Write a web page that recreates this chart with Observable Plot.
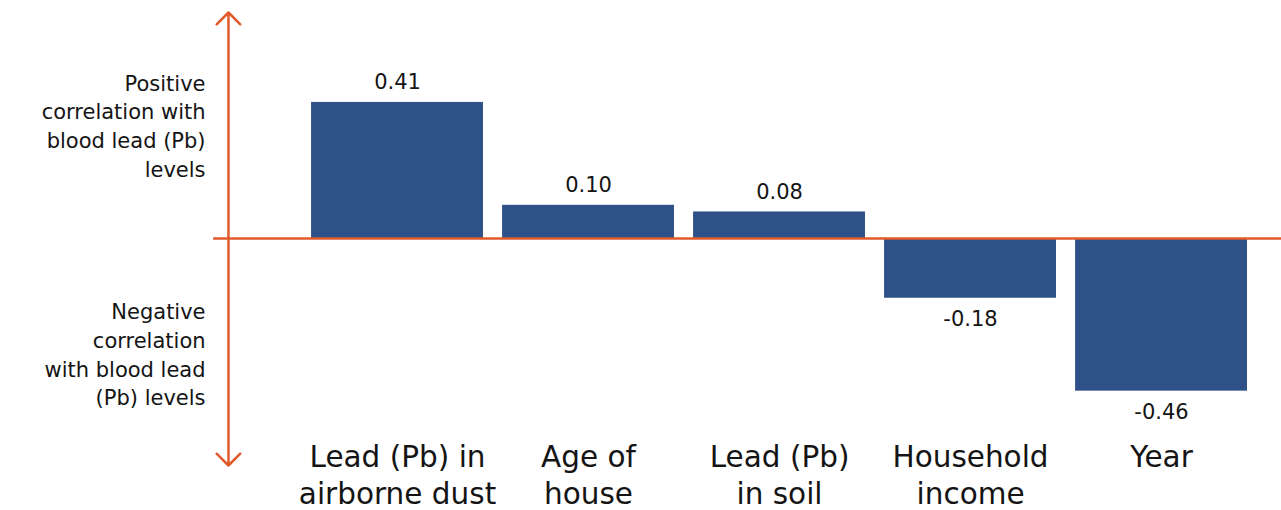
<!DOCTYPE html>
<html>
<head>
<meta charset="utf-8">
<script src="https://cdn.jsdelivr.net/npm/d3@7"></script>
<script src="https://cdn.jsdelivr.net/npm/@observablehq/plot@0.6"></script>
<style>
  html, body { margin: 0; padding: 0; background: #fff; }
  #chart { width: 1281px; height: 510px; }
  svg { font-family: "DejaVu Sans", sans-serif; }
</style>
</head>
<body>
<div id="chart"></div>
<script>
const categories = ["Lead (Pb) in\nairborne dust", "Age of\nhouse", "Lead (Pb)\nin soil", "Household\nincome", "Year"];
const values = [0.41, 0.10, 0.08, -0.18, -0.46];
const valueLabels = ["0.41", "0.10", "0.08", "-0.18", "-0.46"];
const positiveNote = "Positive\ncorrelation with\nblood lead (Pb)\nlevels";
const negativeNote = "Negative\ncorrelation\nwith blood lead\n(Pb) levels";

const data = categories.map((c, i) => ({ i, category: c, value: values[i], label: valueLabels[i] }));

const barColor = "#2F5189";
const axisColor = "#E05A2B";
const textColor = "#141414";

// x is a linear index scale: one unit per category
const xDomain = [-2.0785, 4.628];
const yDomain = [-0.684, 0.681];
const axisX = -0.885;
const half = 0.45;

const chart = Plot.plot({
  width: 1281,
  height: 510,
  marginLeft: 0,
  marginRight: 0,
  marginTop: 12,
  marginBottom: 45,
  x: { domain: xDomain, axis: null },
  y: { domain: yDomain, axis: null },
  marks: [
    Plot.rectY(data, { x1: d => d.i - half, x2: d => d.i + half, y1: 0, y2: "value", fill: barColor }),
    // zero line
    Plot.ruleY([0], { x1: -0.963, x2: xDomain[1], stroke: axisColor, strokeWidth: 2.5 }),
    // vertical double arrow
    Plot.arrow([yDomain[1], yDomain[0]], {
      x1: axisX, x2: axisX, y1: 0, y2: d => d,
      stroke: axisColor, strokeWidth: 2.5, headAngle: 90, headLength: 10
    }),
    // value labels
    Plot.text(data.filter(d => d.value >= 0), {
      x: "i", y: "value", text: "label", lineAnchor: "bottom", dy: -13,
      fontSize: 21, fill: textColor
    }),
    Plot.text(data.filter(d => d.value < 0), {
      x: "i", y: "value", text: "label", lineAnchor: "top", dy: 13,
      fontSize: 21, fill: textColor
    }),
    // category labels
    Plot.text(data, {
      x: "i", text: "category", frameAnchor: "bottom",
      lineAnchor: "top", dy: -24, lineHeight: 1.24,
      fontSize: 29.5, fill: textColor
    }),
    // side notes
    Plot.text([positiveNote], { x: -1.005, y: 0.343, text: d => d, textAnchor: "end", lineHeight: 1.37, fontSize: 21, fill: textColor }),
    Plot.text([negativeNote], { x: -1.005, y: -0.345, text: d => d, textAnchor: "end", lineHeight: 1.37, fontSize: 21, fill: textColor })
  ]
});

document.getElementById("chart").appendChild(chart);
</script>
</body>
</html>
